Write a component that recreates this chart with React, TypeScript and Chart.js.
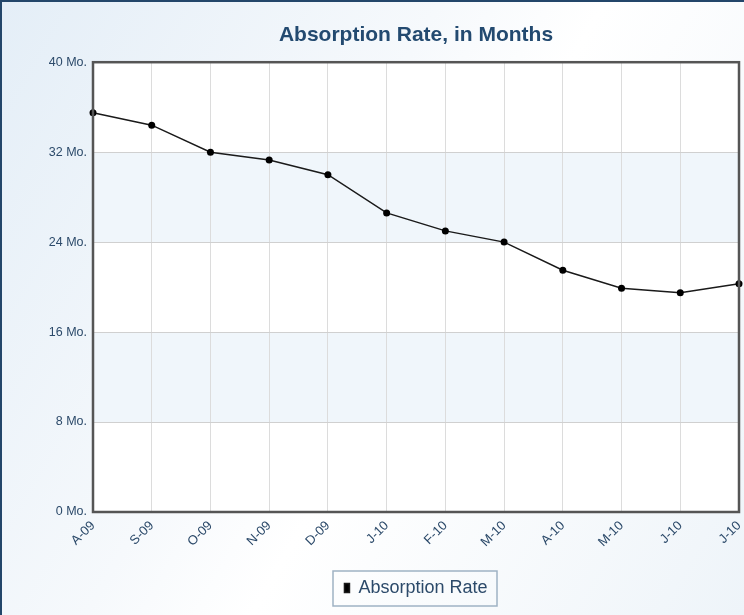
import React, { useEffect, useRef } from "react";
import { Chart, registerables } from "chart.js";

Chart.register(...registerables);

const months = ["A-09", "S-09", "O-09", "N-09", "D-09", "J-10", "F-10", "M-10", "A-10", "M-10", "J-10", "J-10"];
const absorptionRate = [35.5, 34.4, 32.0, 31.3, 30.0, 26.6, 25.0, 24.0, 21.5, 19.9, 19.5, 20.3];
const yTicks = [0, 8, 16, 24, 32, 40];
const seriesName = "Absorption Rate";
const titleText = "Absorption Rate, in Months";

const textColor = "#2c4a6a";
const sans = "'Liberation Sans', Arial, sans-serif";

const bandsPlugin = {
  id: "bands",
  beforeDraw(chart: any) {
    const { ctx, chartArea } = chart;
    const y = chart.scales.y;
    ctx.save();
    ctx.fillStyle = "#ffffff";
    ctx.fillRect(chartArea.left, chartArea.top, chartArea.right - chartArea.left, chartArea.bottom - chartArea.top);
    ctx.fillStyle = "#f0f6fb";
    for (let i = 0; i < yTicks.length - 1; i++) {
      if (i % 2 === 1) {
        const y1 = y.getPixelForValue(yTicks[i]);
        const y2 = y.getPixelForValue(yTicks[i + 1]);
        ctx.fillRect(chartArea.left, y2, chartArea.right - chartArea.left, y1 - y2);
      }
    }
    ctx.restore();
  },
  afterDatasetsDraw(chart: any) {
    const { ctx, chartArea } = chart;
    ctx.save();
    ctx.strokeStyle = "#555555";
    ctx.lineWidth = 2.5;
    ctx.strokeRect(chartArea.left, chartArea.top, chartArea.right - chartArea.left, chartArea.bottom - chartArea.top);
    ctx.restore();
  },
  afterDraw(chart: any) {
    const lg = chart.legend;
    if (!lg || !lg.legendHitBoxes || !lg.legendHitBoxes.length) return;
    const hb = lg.legendHitBoxes[0];
    const { ctx } = chart;
    ctx.save();
    ctx.strokeStyle = "#9fb2c4";
    ctx.lineWidth = 1.5;
    const x = Math.round(hb.left - 11);
    const yy = Math.round(hb.top + hb.height / 2 - 17.5);
    ctx.strokeRect(x, yy, Math.round(hb.width + 21), 35);
    ctx.restore();
  },
};

export default function App() {
  const ref = useRef<HTMLCanvasElement | null>(null);
  useEffect(() => {
    if (!ref.current) return;
    const chart = new Chart(ref.current, {
      type: "line",
      data: {
        labels: months,
        datasets: [
          {
            label: seriesName,
            data: absorptionRate,
            borderColor: "#1a1a1a",
            backgroundColor: "#000000",
            borderWidth: 1.5,
            pointRadius: 3.5,
            pointBackgroundColor: "#000000",
            pointBorderColor: "#000000",
            pointBorderWidth: 0,
            tension: 0,
          },
        ],
      },
      plugins: [bandsPlugin],
      options: {
        animation: false,
        responsive: false,
        maintainAspectRatio: false,
        layout: { padding: { left: 0, right: 5, top: 0, bottom: 8 } },
        plugins: {
          title: {
            display: true,
            text: titleText,
            fullSize: false,
            color: "#234a70",
            font: { family: sans, size: 21, weight: "bold" },
            padding: { top: 21, bottom: 14 },
          },
          legend: {
            display: true,
            position: "bottom",
            fullSize: false,
            labels: {
              color: textColor,
              font: { family: sans, size: 18 },
              boxWidth: 5,
              boxHeight: 9,
              padding: 12,
            },
          },
          tooltip: { enabled: false },
        },
        scales: {
          x: {
            offset: false,
            grid: { color: "#dcdcdc", drawTicks: false, lineWidth: 1 },
            border: { display: false },
            ticks: {
              color: textColor,
              font: { family: sans, size: 13 },
              maxRotation: 45,
              minRotation: 45,
              padding: 6,
              autoSkip: false,
            },
            afterFit(scale: any) {
              scale.height = 55;
              scale.paddingRight = 0;
              scale.paddingLeft = 0;
            },
          },
          y: {
            min: 0,
            max: 40,
            grid: { color: "#d0d0d0", drawTicks: false, lineWidth: 1 },
            border: { display: false },
            ticks: {
              stepSize: 8,
              color: textColor,
              font: { family: sans, size: 12.5 },
              padding: 6,
              callback: (v: any) => `${v} Mo.`,
            },
            afterFit(scale: any) {
              scale.width = 91;
            },
          },
        },
      },
    });
    return () => chart.destroy();
  }, []);
  return (
    <div
      style={{
        position: "absolute",
        left: 0,
        top: 0,
        width: 744,
        height: 615,
        boxSizing: "border-box",
        borderLeft: "2px solid #23466a",
        borderTop: "2px solid #23466a",
        background: "linear-gradient(120deg, #e4eef7 0%, #f6f9fc 40%, #ffffff 55%, #eef4f9 100%)",
      }}
    >
      <canvas ref={ref} width={742} height={613} style={{ display: "block" }} />
    </div>
  );
}
